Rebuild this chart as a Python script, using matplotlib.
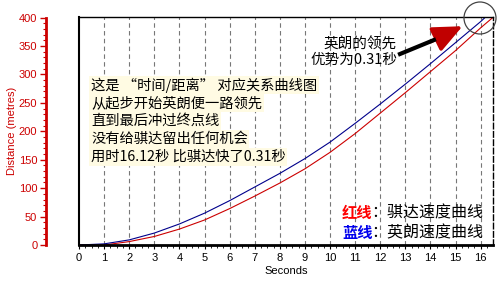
import numpy as np
import matplotlib
matplotlib.use('Agg')
import matplotlib.pyplot as plt
from matplotlib.patches import Ellipse
from matplotlib.ticker import MultipleLocator

plt.rcParams['font.family'] = ['Noto Sans CJK SC', 'DejaVu Sans']

# 英朗 (蓝) 与 骐达 (红) 的时间-距离数据
blueT = [0, 1, 2, 3, 4, 5, 6, 7, 8, 9, 10, 11, 12, 13, 14, 15, 16, 16.17]
blueD = [0, 2, 9, 21, 37, 56, 78, 102, 126, 152, 181, 214, 248, 283, 319, 356, 393, 400]
redT = [0, 1, 2, 3, 4, 5, 6, 7, 8, 9, 10, 11, 12, 13, 14, 15, 16, 16.48]
redD = [0, 0, 6, 15, 28, 44, 64, 86, 109, 134, 163, 196, 232, 268, 305, 342, 382, 400]

xTicks = list(range(0, 17))
yTicks = list(range(0, 401, 50))

textLines = ['这是 “时间/距离” 对应关系曲线图',
             '从起步开始英朗便一路领先',
             '直到最后冲过终点线',
             '没有给骐达留出任何机会',
             '用时16.12秒 比骐达快了0.31秒']
note = '英朗的领先\n优势为0.31秒'

W, H = 500, 287
fig = plt.figure(figsize=(W / 100, H / 100), dpi=100)
ax = fig.add_axes([79 / W, 1 - 245 / H, (493 - 79) / W, (245 - 17) / H])


def px(x, y):
    return (x / W, 1 - y / H)


ax.plot(redT, redD, color='#cc0000', lw=0.8)
ax.plot(blueT, blueD, color='#00008b', lw=0.8)

ax.set_xlim(0, 16.49)
ax.set_ylim(0, 401)

for t in xTicks[1:]:
    ax.axvline(t, color='#777777', ls=(0, (4, 3)), lw=0.8, zorder=0)

# x 轴
ax.set_xticks(xTicks)
ax.xaxis.set_minor_locator(MultipleLocator(0.25))
ax.tick_params(axis='x', which='major', length=3, width=0.8, labelsize=8, pad=3)
ax.tick_params(axis='x', which='minor', length=2, width=0.6)
for lab in ax.get_xticklabels():
    lab.set_family(['Liberation Sans', 'DejaVu Sans'])
ax.set_xlabel('Seconds', fontsize=8, family=['Liberation Sans', 'DejaVu Sans'], labelpad=2)

# y 轴 (红色, 与图框分开)
ax.spines['left'].set_position(('outward', 24))
ax.spines['left'].set_color('#cc0000')
ax.spines['left'].set_linewidth(2)
ax.spines['left'].set_bounds(0, 400)
ax.set_yticks(yTicks)
ax.yaxis.set_minor_locator(MultipleLocator(10))
ax.tick_params(axis='y', which='major', colors='#cc0000', length=4, width=1, labelsize=8, pad=2)
ax.tick_params(axis='y', which='minor', colors='#cc0000', length=2, width=0.8)
for lab in ax.get_yticklabels():
    lab.set_family(['Liberation Sans', 'DejaVu Sans'])
ax.set_ylabel('Distance (metres)', color='#cc0000', fontsize=8,
              family=['Liberation Sans', 'DejaVu Sans'], labelpad=1)

ax.spines['bottom'].set_linewidth(2)
ax.spines['top'].set_linewidth(1)
ax.spines['right'].set_linestyle((0, (4, 2)))
ax.spines['right'].set_linewidth(1)
ax.axvline(0, color='black', lw=1.5, clip_on=False)

# 说明文字 (每行单独衬底)
for i, line in enumerate(textLines):
    fig.text(*px(91, 85 + 18 * i), line, fontsize=10.3, va='center', ha='left',
             bbox=dict(boxstyle='square,pad=0.12', facecolor='#fffbe3', edgecolor='none'))

fig.text(*px(397, 52), note, fontsize=10.5, ha='right', va='center', linespacing=1.12)

# 箭头
fig.add_artist(plt.Line2D([px(400, 54)[0], px(434, 40)[0]], [px(400, 54)[1], px(434, 40)[1]],
                          transform=fig.transFigure, color='black', lw=3))
ax.annotate('', xy=px(465, 25), xycoords='figure fraction',
            xytext=px(428, 43), textcoords='figure fraction',
            arrowprops=dict(arrowstyle='-|>,head_length=1.8,head_width=0.8',
                            color='#c00000', lw=2.5))

fig.add_artist(Ellipse(px(480, 18), 32 / W, 32 / H, transform=fig.transFigure,
                       facecolor='none', edgecolor='#444444', lw=0.9))

# 图例
fig.text(*px(342, 213), '红线', color='#ff0000', fontsize=11, fontweight='bold', va='center')
fig.text(*px(371, 213), '：骐达速度曲线', color='black', fontsize=11.5, va='center')
fig.text(*px(342, 233), '蓝线', color='#0000ee', fontsize=11, fontweight='bold', va='center')
fig.text(*px(371, 233), '：英朗速度曲线', color='black', fontsize=11.5, va='center')

fig.savefig('out.png', dpi=100)
